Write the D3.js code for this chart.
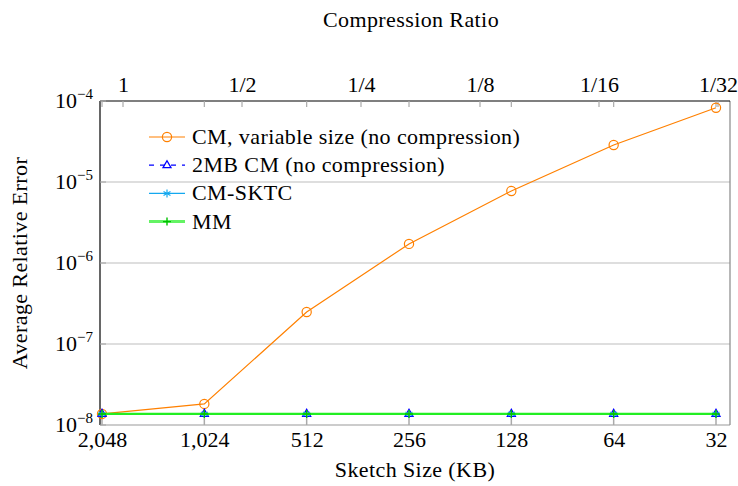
<html>
<head>
<meta charset="utf-8">
<script src="https://d3js.org/d3.v7.min.js"></script>
<style>
body { margin: 0; background: #fff; }
svg { display: block; }
</style>
</head>
<body>
<svg width="738" height="486"></svg>
<script>

// data
var sizes = ["2,048", "1,024", "512", "256", "128", "64", "32"];
var ratios = ["1", "1/2", "1/4", "1/8", "1/16", "1/32"];
var cmVariable = [1.37e-8, 1.82e-8, 2.48e-7, 1.72e-6, 7.75e-6, 2.86e-5, 8.26e-5];
var cm2mb = [1.37e-8, 1.37e-8, 1.37e-8, 1.37e-8, 1.37e-8, 1.37e-8, 1.37e-8];
var cmSktc = [1.37e-8, 1.37e-8, 1.37e-8, 1.37e-8, 1.37e-8, 1.37e-8, 1.37e-8];
var mm = [1.37e-8, 1.37e-8, 1.37e-8, 1.37e-8, 1.37e-8, 1.37e-8, 1.37e-8];
var yTicks = [1e-8, 1e-7, 1e-6, 1e-5, 1e-4];

var series = [
  {name: "CM, variable size (no compression)", values: cmVariable, color: "#ff8000", mark: "circle", dash: null, width: 1.2},
  {name: "2MB CM (no compression)", values: cm2mb, color: "#0000ff", mark: "triangle", dash: "5,4", width: 1.2},
  {name: "CM-SKTC", values: cmSktc, color: "#14a8ef", mark: "star", dash: null, width: 1.2},
  {name: "MM", values: mm, color: "#22ee22", mark: "plus", dash: null, width: 2.2}
];

var FONT = "'Liberation Serif', serif";
var FS = "22px";
var LS = "0.4px";

var svg = d3.select("svg"),
    pLeft = 100, pRight = 730, pTop = 101, pBottom = 425;

var x = d3.scalePoint().domain(sizes).range([102, 716]);
var xTop = d3.scalePoint().domain(ratios).range([123, 718]);
var y = d3.scaleLog().domain([1e-8, 1e-4]).range([pBottom, pTop]);

// grid
svg.append("g").selectAll("line")
    .data(yTicks.slice(1, 4))
    .enter().append("line")
    .attr("x1", pLeft).attr("x2", pRight)
    .attr("y1", d => y(d)).attr("y2", d => y(d))
    .attr("stroke", "#bdbdbd").attr("stroke-width", 1);

// frame
svg.append("line").attr("x1", pLeft).attr("x2", pRight).attr("y1", pBottom).attr("y2", pBottom)
    .attr("stroke", "#999").attr("stroke-width", 1.2);
svg.append("line").attr("x1", pRight).attr("x2", pRight).attr("y1", pTop).attr("y2", pBottom)
    .attr("stroke", "#888").attr("stroke-width", 1.2);
svg.append("line").attr("x1", pLeft).attr("x2", pRight).attr("y1", pTop).attr("y2", pTop)
    .attr("stroke", "#000").attr("stroke-width", 1.2);
svg.append("line").attr("x1", pLeft).attr("x2", pLeft).attr("y1", pTop).attr("y2", pBottom)
    .attr("stroke", "#000").attr("stroke-width", 1.2);

// bottom axis
var xAxis = d3.axisBottom(x).tickSize(0).tickPadding(6);
var gx = svg.append("g").attr("transform", "translate(0," + pBottom + ")").call(xAxis);
gx.select(".domain").remove();
gx.selectAll("text").style("font-size", FS).style("font-family", FONT);

svg.append("g").selectAll("line")
    .data(sizes).enter().append("line")
    .attr("x1", d => x(d)).attr("x2", d => x(d))
    .attr("y1", pBottom).attr("y2", pBottom - 7)
    .attr("stroke", "#aaa").attr("stroke-width", 1.5);

// top axis
var topAxis = d3.axisTop(xTop).tickSize(0).tickPadding(9);
var gt = svg.append("g").attr("transform", "translate(0," + pTop + ")").call(topAxis);
gt.select(".domain").remove();
gt.selectAll("text").style("font-size", FS).style("font-family", FONT);

svg.append("g").selectAll("line")
    .data(sizes).enter().append("line")
    .attr("x1", d => x(d)).attr("x2", d => x(d))
    .attr("y1", pTop).attr("y2", pTop + 6)
    .attr("stroke", "#aaa").attr("stroke-width", 1.2);
svg.append("g").selectAll("line")
    .data(ratios).enter().append("line")
    .attr("x1", d => xTop(d)).attr("x2", d => xTop(d))
    .attr("y1", pTop).attr("y2", pTop + 6)
    .attr("stroke", "#aaa").attr("stroke-width", 1.2);

// left axis
svg.append("g").selectAll("line")
    .data(yTicks).enter().append("line")
    .attr("x1", pLeft).attr("x2", pLeft + 6)
    .attr("y1", d => y(d)).attr("y2", d => y(d))
    .attr("stroke", "#aaa").attr("stroke-width", 1.2);

var yl = svg.append("g").selectAll("text")
    .data(yTicks).enter().append("text")
    .attr("x", 93).attr("y", d => y(d) + 7)
    .attr("text-anchor", "end")
    .style("font-family", FONT)
    .style("font-size", FS);
yl.append("tspan").text("10");
yl.append("tspan").attr("dy", -9).style("font-size", "15px")
    .text(d => "\u2212" + Math.round(-Math.log10(d)));

// titles
svg.append("text").attr("x", 411).attr("y", 27).attr("text-anchor", "middle")
    .style("font-family", FONT).style("font-size", FS).style("letter-spacing", LS)
    .text("Compression Ratio");
svg.append("text").attr("x", 415).attr("y", 477).attr("text-anchor", "middle")
    .style("font-family", FONT).style("font-size", FS).style("letter-spacing", LS)
    .text("Sketch Size (KB)");
svg.append("text").attr("transform", "translate(27,263) rotate(-90)").attr("text-anchor", "middle")
    .style("font-family", FONT).style("font-size", FS).style("letter-spacing", LS)
    .text("Average Relative Error");

// markers
function drawMark(g, s, cx, cy) {
  if (s.mark == "circle") {
    g.append("circle").attr("cx", cx).attr("cy", cy).attr("r", 4.6)
      .attr("fill", "none").attr("stroke", s.color).attr("stroke-width", 1.2);
  } else if (s.mark == "triangle") {
    g.append("path").attr("d", "M" + cx + "," + (cy - 4.5) + "L" + (cx + 4) + "," + (cy + 2.5) + "L" + (cx - 4) + "," + (cy + 2.5) + "Z")
      .attr("fill", "none").attr("stroke", s.color).attr("stroke-width", 1.3);
  } else if (s.mark == "star") {
    [0, 60, 120].forEach(function(a) {
      var r = a * Math.PI / 180;
      g.append("line")
        .attr("x1", cx - 4 * Math.sin(r)).attr("y1", cy - 4 * Math.cos(r))
        .attr("x2", cx + 4 * Math.sin(r)).attr("y2", cy + 4 * Math.cos(r))
        .attr("stroke", s.color).attr("stroke-width", 1.2);
    });
  } else {
    g.append("path").attr("d", "M" + (cx - 4) + "," + cy + "H" + (cx + 4) + "M" + cx + "," + (cy - 4) + "V" + (cy + 4))
      .attr("stroke", "#00c000").attr("stroke-width", 1.4);
  }
}

var line = d3.line().x(d => x(d.size)).y(d => y(d.value));

series.forEach(function(s) {
  var pts = sizes.map((k, i) => ({size: k, value: s.values[i]}));
  var g = svg.append("g");
  g.append("path").datum(pts).attr("d", line)
    .attr("fill", "none").attr("stroke", s.color).attr("stroke-width", s.width)
    .attr("stroke-dasharray", s.dash);
  pts.forEach(p => drawMark(g, s, x(p.size), y(p.value)));
});

// legend
var legend = svg.append("g");
series.forEach(function(s, i) {
  var ly = 137 + i * 28.2;
  legend.append("line").attr("x1", 149).attr("x2", 185).attr("y1", ly).attr("y2", ly)
    .attr("stroke", s.color).attr("stroke-width", s.mark == "plus" ? 3 : 1.2)
    .attr("stroke-opacity", s.mark == "plus" ? 0.7 : 1)
    .attr("stroke-dasharray", s.dash ? "5,6" : null);
  drawMark(legend, s, 167, ly);
  legend.append("text").attr("x", 192).attr("y", ly + 7)
    .style("font-family", FONT).style("font-size", FS).style("letter-spacing", LS)
    .text(s.name);
});

</script>
</body>
</html>
